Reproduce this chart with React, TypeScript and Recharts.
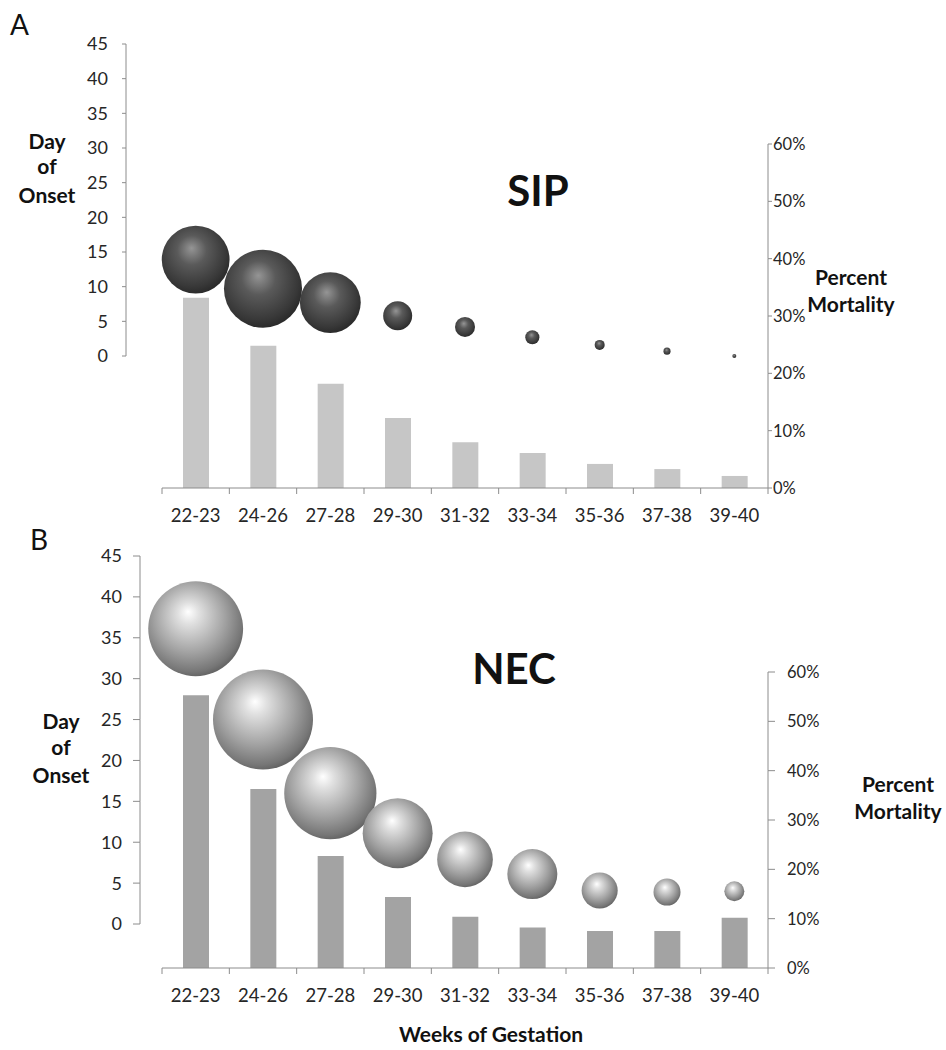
import React from "react";
import { ComposedChart, Bar, Scatter, XAxis, YAxis, ZAxis } from "recharts";

const weeks = ["22-23", "24-26", "27-28", "29-30", "31-32", "33-34", "35-36", "37-38", "39-40"];

// SIP: day of onset (bubble y), relative bubble size, percent mortality (bars)
const sipOnset = [13.9, 9.7, 7.7, 5.8, 4.2, 2.7, 1.6, 0.7, 0];
const sipSize = [46, 61, 37, 8.4, 4.0, 2.0, 1.0, 0.5, 0.16];
const sipMortality = [33.2, 24.8, 18.2, 12.2, 8.0, 6.1, 4.2, 3.3, 2.1];

// NEC
const necOnset = [36.1, 25.0, 16.0, 11.1, 7.9, 6.1, 4.1, 3.9, 4.0];
const necSize = [90, 100, 85, 49, 31, 25, 13, 7.3, 4];
const necMortality = [55.3, 36.3, 22.7, 14.4, 10.4, 8.2, 7.5, 7.5, 10.2];

const onsetTicks = [0, 5, 10, 15, 20, 25, 30, 35, 40, 45];
const mortalityTicks = [0, 10, 20, 30, 40, 50, 60];

const FONT = "Lato, 'Open Sans', sans-serif";
const AXIS = "#8c8c8c";
const TEXT = "#262626";
const W = 946;
const PLOT_LEFT = 162;
const PLOT_RIGHT = 768;
const Y_AXIS_W = 60;
const X_AXIS_H = 30;

type Geom = {
  top: number;
  height: number;
  plotTop: number;
  axisY: number;
  leftAxisX: number;
  leftTopY: number;
  leftZeroY: number;
  leftTickLen: number;
  leftLabelRight: number;
  rightTopY: number;
  rightTickLen: number;
  rightLabelX: number;
  barColor: string;
  sphere: string;
};

// local (chart) coordinates
const geomA: Geom = {
  top: 0,
  height: 540,
  plotTop: 44,
  axisY: 488,
  leftAxisX: 126,
  leftTopY: 44,
  leftZeroY: 356,
  leftTickLen: 4,
  leftLabelRight: 108,
  rightTopY: 144,
  rightTickLen: 4,
  rightLabelX: 773,
  barColor: "#c6c6c6",
  sphere: "sphereDark",
};

const geomB: Geom = {
  top: 520,
  height: 530,
  plotTop: 36,
  axisY: 448,
  leftAxisX: 140,
  leftTopY: 36,
  leftZeroY: 404,
  leftTickLen: 7,
  leftLabelRight: 122,
  rightTopY: 152,
  rightTickLen: 7,
  rightLabelX: 787,
  barColor: "#a3a3a3",
  sphere: "sphereLight",
};

function Panel({ g, onset, size, mortality }: { g: Geom; onset: number[]; size: number[]; mortality: number[] }) {
  const data = weeks.map((w, i) => ({ week: w, onset: onset[i], size: size[i], mortality: mortality[i] }));
  const leftPx = (g.leftZeroY - g.leftTopY) / 45;
  const leftDomain = [-(g.axisY - g.leftZeroY) / leftPx, 45 + (g.leftTopY - g.plotTop) / leftPx];
  const rightPx = (g.axisY - g.rightTopY) / 60;
  const rightDomain = [0, (g.axisY - g.plotTop) / rightPx];
  const band = (PLOT_RIGHT - PLOT_LEFT) / weeks.length;

  const leftTick = (p: any) => {
    const v = p.payload.value;
    const y = p.y;
    return (
      <g>
        <line x1={g.leftAxisX - g.leftTickLen} x2={g.leftAxisX} y1={y} y2={y} stroke={AXIS} />
        {v < 45 && <line x1={g.leftAxisX} x2={g.leftAxisX} y1={y} y2={y - 5 * leftPx} stroke={AXIS} />}
        <text x={g.leftLabelRight} y={y} dy="0.36em" textAnchor="end" fontSize={18} fill={TEXT} fontFamily={FONT}>
          {v}
        </text>
      </g>
    );
  };

  const rightTick = (p: any) => {
    const v = p.payload.value;
    const y = p.y;
    return (
      <g>
        <line x1={PLOT_RIGHT} x2={PLOT_RIGHT + g.rightTickLen} y1={y} y2={y} stroke={AXIS} />
        {v < 60 && <line x1={PLOT_RIGHT} x2={PLOT_RIGHT} y1={y} y2={y - 10 * rightPx} stroke={AXIS} />}
        <text x={g.rightLabelX} y={y} dy="0.36em" textAnchor="start" fontSize={16.5} fill={TEXT} fontFamily={FONT}>
          {`${v}%`}
        </text>
      </g>
    );
  };

  const bottomTick = (p: any) => {
    const x = p.x;
    return (
      <g>
        <line x1={x - band / 2} x2={x - band / 2} y1={g.axisY} y2={g.axisY + 6} stroke={AXIS} />
        {p.index === weeks.length - 1 && (
          <line x1={x + band / 2} x2={x + band / 2} y1={g.axisY} y2={g.axisY + 6} stroke={AXIS} />
        )}
        <text x={x} y={g.axisY + 34} textAnchor="middle" fontSize={18.5} fill={TEXT} fontFamily={FONT}>
          {p.payload.value}
        </text>
      </g>
    );
  };

  const sphere = (p: any) => {
    const r = p.size ? Math.sqrt(p.size / Math.PI) : (p.width || 0) / 2;
    return <circle cx={p.cx} cy={p.cy} r={r} fill={`url(#${g.sphere})`} />;
  };

  return (
    <div style={{ position: "absolute", left: 0, top: g.top }}>
      <ComposedChart
        width={W}
        height={g.height}
        data={data}
        margin={{
          top: g.plotTop,
          bottom: g.height - g.axisY - X_AXIS_H,
          left: PLOT_LEFT - Y_AXIS_W,
          right: W - PLOT_RIGHT - Y_AXIS_W,
        }}
      >
        <defs>
          <radialGradient id="sphereDark" cx="0.45" cy="0.42" r="0.62" fx="0.44" fy="0.33">
            <stop offset="0%" stopColor="#959595" />
            <stop offset="35%" stopColor="#5a5a5a" />
            <stop offset="80%" stopColor="#383838" />
            <stop offset="100%" stopColor="#262626" />
          </radialGradient>
          <radialGradient id="sphereLight" cx="0.45" cy="0.42" r="0.62" fx="0.42" fy="0.32">
            <stop offset="0%" stopColor="#ffffff" />
            <stop offset="18%" stopColor="#e0e0e0" />
            <stop offset="60%" stopColor="#a2a2a2" />
            <stop offset="88%" stopColor="#767676" />
            <stop offset="100%" stopColor="#5a5a5a" />
          </radialGradient>
        </defs>
        <XAxis
          dataKey="week"
          height={X_AXIS_H}
          stroke={AXIS}
          tickLine={false}
          interval={0}
          tick={bottomTick}
        />
        <YAxis
          yAxisId="onset"
          orientation="left"
          width={Y_AXIS_W}
          type="number"
          domain={leftDomain}
          ticks={onsetTicks}
          interval={0}
          axisLine={false}
          tickLine={false}
          tick={leftTick}
        />
        <YAxis
          yAxisId="mortality"
          orientation="right"
          width={Y_AXIS_W}
          type="number"
          domain={rightDomain}
          ticks={mortalityTicks}
          interval={0}
          axisLine={false}
          tickLine={false}
          tick={rightTick}
        />
        <ZAxis dataKey="size" type="number" domain={[0, 100]} range={[0, Math.PI * 2500]} />
        <Bar yAxisId="mortality" dataKey="mortality" fill={g.barColor} barSize={26} isAnimationActive={false} />
        <Scatter yAxisId="onset" dataKey="onset" shape={sphere} isAnimationActive={false} />
      </ComposedChart>
    </div>
  );
}

export default function App() {
  const label = { fontFamily: FONT, fill: "#111" } as const;
  return (
    <div style={{ position: "absolute", left: 0, top: 0, width: W, height: 1050, background: "#fff" }}>
      <Panel g={geomA} onset={sipOnset} size={sipSize} mortality={sipMortality} />
      <Panel g={geomB} onset={necOnset} size={necSize} mortality={necMortality} />
      <svg width={W} height={1050} style={{ position: "absolute", left: 0, top: 0, pointerEvents: "none" }}>
        <text x={10} y={35} fontSize={28} {...label}>A</text>
        <text x={30} y={550} fontSize={28} {...label}>B</text>

        <text x={538} y={206} fontSize={42} fontWeight="bold" textAnchor="middle" {...label}>SIP</text>
        <text x={514} y={684} fontSize={42} fontWeight="bold" textAnchor="middle" {...label}>NEC</text>

        <g fontSize={21} fontWeight="bold" textAnchor="middle" {...label}>
          <text x={47} y={149}>Day</text>
          <text x={47} y={174}>of</text>
          <text x={47} y={203}>Onset</text>
          <text x={61} y={729}>Day</text>
          <text x={61} y={755}>of</text>
          <text x={61} y={783}>Onset</text>
          <text x={851} y={285}>Percent</text>
          <text x={851} y={312}>Mortality</text>
          <text x={898} y={792}>Percent</text>
          <text x={898} y={819}>Mortality</text>
          <text x={491} y={1042}>Weeks of Gestation</text>
        </g>
      </svg>
    </div>
  );
}
